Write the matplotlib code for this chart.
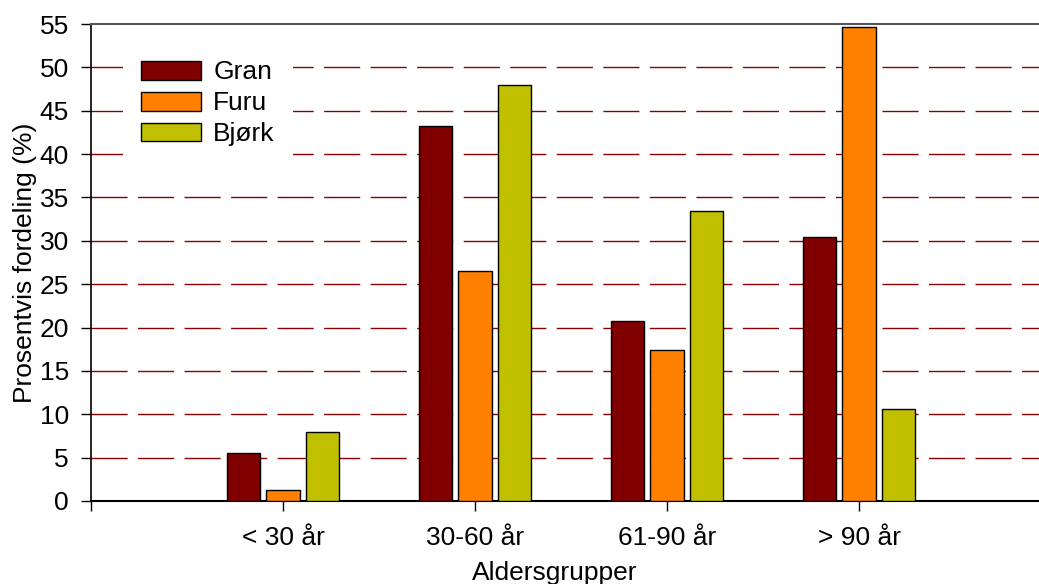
import numpy as np
import matplotlib.pyplot as plt

plt.rcParams['font.family'] = ['Liberation Sans', 'DejaVu Sans']
plt.rcParams['lines.scale_dashes'] = False

# Aldersfordeling per treslag
groups = ['< 30 år', '30-60 år', '61-90 år', '> 90 år']
gran = [5.5, 43.2, 20.8, 30.4]
furu = [1.3, 26.5, 17.4, 54.7]
bjork = [8.0, 48.0, 33.4, 10.6]

series = [('Gran', gran, '#800000'),
          ('Furu', furu, '#FF8000'),
          ('Bjørk', bjork, '#C0C000')]

fig = plt.figure(figsize=(10.39, 5.84), dpi=100)
ax = fig.add_axes([91/1039, 83/584, 948/1039, 477/584])

x = np.arange(1, len(groups) + 1)
width = 0.172
step = 0.208
for i, (name, vals, col) in enumerate(series):
    ax.bar(x + (i - 1) * step, vals, width, color=col, edgecolor='black',
           linewidth=1.0, label=name, zorder=3)

ax.set_xlim(0, 948/192)
ax.set_ylim(0, 55)
ax.set_yticks(np.arange(0, 56, 5))

ax.set_xticks([0] + list(x))
ax.set_xticklabels([''] + groups)

# stiplede hjelpelinjer
for yv in range(5, 55, 5):
    ax.axhline(yv, color='#8B0000', linewidth=1.0, dashes=(26, 7.5), zorder=1)

ax.spines['right'].set_visible(False)
ax.spines['top'].set_color('#555555')
ax.spines['top'].set_linewidth(1.5)
ax.spines['left'].set_linewidth(1.2)
ax.spines['bottom'].set_linewidth(1.5)

ax.tick_params(axis='both', direction='out', length=7, width=1, labelsize=19, colors='black')
ax.tick_params(axis='x', pad=11)
ax.tick_params(axis='y', pad=9)

ax.set_xlabel('Aldersgrupper', fontsize=19)
ax.xaxis.set_label_coords((555 - 91) / 948, -0.125)
ax.set_ylabel('Prosentvis fordeling (%)', fontsize=19)
ax.yaxis.set_label_coords((37 - 91) / 948, 0.5)

leg = ax.legend(loc='upper left', bbox_to_anchor=((123 - 91) / 948, (501 - 42) / 477),
                fontsize=19, frameon=True, framealpha=1, edgecolor='none',
                fancybox=False, handlelength=2.27, handleheight=0.72,
                labelspacing=0.26, handletextpad=0.45, borderpad=0.7,
                borderaxespad=0)
leg.set_zorder(4)

fig.savefig('out.png', dpi=100)
